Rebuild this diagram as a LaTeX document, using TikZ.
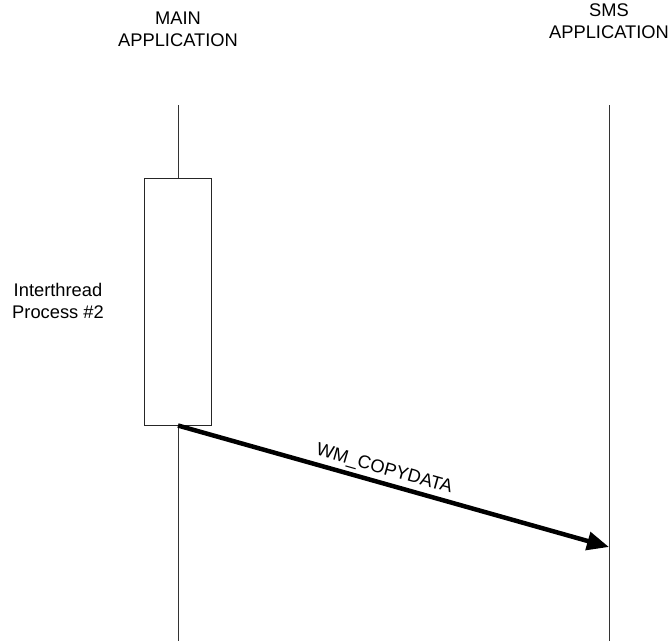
\documentclass[tikz,border=0pt]{standalone}
\usepackage{fontspec}
\setmainfont{Liberation Sans}
\usetikzlibrary{arrows.meta}
\begin{document}
\begin{tikzpicture}[x=1pt,y=-1pt,
  lbl/.style={font=\fontsize{18.3}{22}\selectfont, align=center, inner sep=0pt},
  lifeline/.style={draw=black!80, line width=1pt},
  actbox/.style={draw=black!85, fill=white, line width=1pt, minimum width=67pt, minimum height=247pt, inner sep=0pt},
  msg/.style={line width=4.5pt, -{Triangle[length=22pt,width=18pt]}}]
\useasboundingbox (0,0) rectangle (671,641);
% actor headings
\node[lbl] (mainlbl) at (178,29) {MAIN\\APPLICATION};
\node[lbl] (smslbl) at (609,21) {SMS\\APPLICATION};
% lifelines
\coordinate (mtop) at (178,105);
\coordinate (mbot) at (178,641);
\coordinate (stop) at (609,105);
\coordinate (sbot) at (609,641);
\draw[lifeline] (mtop) -- (mbot);
\draw[lifeline] (stop) -- (sbot);
% activation box
\node[actbox] (act) at (177.5,301.5) {};
\node[lbl] (proc) at (58,301) {Interthread\\Process \#2};
% message
\coordinate (src) at (178,425.5);
\coordinate (dst) at (609,547);
\draw[msg] (src) -- (dst) node[pos=0.47, above=3pt, sloped, lbl] (msglbl) {WM\_COPYDATA};
\end{tikzpicture}
\end{document}
